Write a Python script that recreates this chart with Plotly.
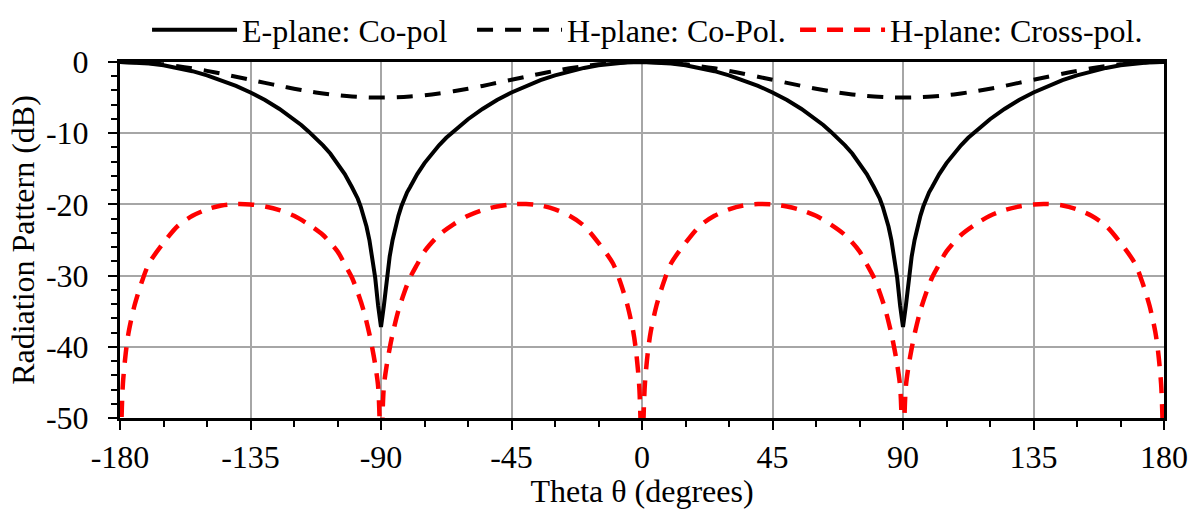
import plotly.graph_objects as go

# ---- E-plane co-polarisation (dB) ----
theta_e = [
    -180, -175, -170, -165, -160, -155, -150, -145, -140, -135, -130, -125, -120,
    -117.5, -115, -112.5, -110, -107.5, -105, -102.5, -100,
    -99, -98, -97, -96, -95, -94, -93, -92, -91, -90,
    -89, -88, -87, -86, -85, -84, -83, -82, -81, -80,
    -77.5, -75, -72.5, -70, -67.5, -65, -62.5, -60,
    -55, -50, -45, -40, -35, -30, -25, -20, -15, -10, -5, 0,
    5, 10, 15, 20, 25, 30, 35, 40, 45, 50, 55, 60,
    62.5, 65, 67.5, 70, 72.5, 75, 77.5, 80,
    81, 82, 83, 84, 85, 86, 87, 88, 89, 90,
    91, 92, 93, 94, 95, 96, 97, 98, 99, 100,
    102.5, 105, 107.5, 110, 112.5, 115, 117.5, 120,
    125, 130, 135, 140, 145, 150, 155, 160, 165, 170, 175, 180,
]
db_e = [
    0, -0.05, -0.21, -0.46, -0.83, -1.29, -1.87, -2.55, -3.35, -4.28, -5.35, -6.59, -8.04,
    -8.85, -9.75, -10.65, -11.7, -12.85, -14.2, -15.75, -17.6,
    -18.3, -19.2, -20.3, -21.6, -23.1, -25.0, -27.3, -30.3, -34.2, -37.2,
    -34.2, -30.3, -27.3, -25.0, -23.1, -21.6, -20.3, -19.2, -18.3, -17.6,
    -15.75, -14.2, -12.85, -11.7, -10.65, -9.75, -8.85, -8.04,
    -6.59, -5.35, -4.28, -3.35, -2.55, -1.87, -1.29, -0.83, -0.46, -0.21, -0.05, 0,
    -0.05, -0.21, -0.46, -0.83, -1.29, -1.87, -2.55, -3.35, -4.28, -5.35, -6.59, -8.04,
    -8.85, -9.75, -10.65, -11.7, -12.85, -14.2, -15.75, -17.6,
    -18.3, -19.2, -20.3, -21.6, -23.1, -25.0, -27.3, -30.3, -34.2, -37.2,
    -34.2, -30.3, -27.3, -25.0, -23.1, -21.6, -20.3, -19.2, -18.3, -17.6,
    -15.75, -14.2, -12.85, -11.7, -10.65, -9.75, -8.85, -8.04,
    -6.59, -5.35, -4.28, -3.35, -2.55, -1.87, -1.29, -0.83, -0.46, -0.21, -0.05, 0,
]

# ---- H-plane co-polarisation (dB) ----
theta_h = list(range(-180, 181, 5))
db_h_co = [
    0, -0.04, -0.15, -0.33, -0.58, -0.89, -1.25, -1.64, -2.07, -2.5,
    -2.93, -3.36, -3.75, -4.11, -4.42, -4.67, -4.85, -4.96, -5.0,
    -4.96, -4.85, -4.67, -4.42, -4.11, -3.75, -3.36, -2.93, -2.5,
    -2.07, -1.64, -1.25, -0.89, -0.58, -0.33, -0.15, -0.04, 0,
    -0.04, -0.15, -0.33, -0.58, -0.89, -1.25, -1.64, -2.07, -2.5,
    -2.93, -3.36, -3.75, -4.11, -4.42, -4.67, -4.85, -4.96, -5.0,
    -4.96, -4.85, -4.67, -4.42, -4.11, -3.75, -3.36, -2.93, -2.5,
    -2.07, -1.64, -1.25, -0.89, -0.58, -0.33, -0.15, -0.04, 0,
]

# ---- H-plane cross-polarisation (dB) ----
theta_x = [
    -180, -179.5, -179, -178, -177, -175, -172.5, -170, -165, -160, -155, -150,
    -145, -140, -135, -130, -125, -120, -115, -110, -105, -102.5, -100,
    -98, -96, -94, -93, -92, -91, -90.5, -90,
    -89.5, -89, -88, -87, -86, -84, -82, -80, -77.5, -75, -70, -65, -60,
    -55, -50, -45, -40, -35, -30, -25, -20, -15, -10, -7.5, -5, -3, -2, -1, -0.5, 0,
    0.5, 1, 2, 3, 5, 7.5, 10, 15, 20, 25, 30, 35, 40, 45, 50, 55, 60, 65, 70,
    75, 77.5, 80, 82, 84, 86, 87, 88, 89, 89.5, 90,
    90.5, 91, 92, 93, 94, 96, 98, 100, 102.5, 105, 110, 115, 120,
    125, 130, 135, 140, 145, 150, 155, 160, 165, 170, 172.5, 175, 177, 178, 179, 179.5, 180,
]
db_x = [
    -65, -50.5, -45.2, -40.8, -37.9, -34.2, -30.9, -28.3, -25.4, -23.0, -21.6, -20.7,
    -20.15, -19.95, -20.0, -20.3, -20.8, -21.6, -22.8, -24.3, -26.6, -28.4, -30.3,
    -32.4, -34.9, -38.2, -40.2, -42.5, -45.5, -50, -65,
    -50, -45.5, -42.5, -40.2, -38.2, -34.9, -32.4, -30.3, -28.4, -26.6, -24.3, -22.8, -21.6,
    -20.8, -20.3, -20.0, -19.95, -20.15, -20.7, -21.6, -23.0, -25.4, -28.3, -30.9, -34.2, -37.9, -40.8, -45.2, -50.5, -65,
    -50.5, -45.2, -40.8, -37.9, -34.2, -30.9, -28.3, -25.4, -23.0, -21.6, -20.7, -20.15, -19.95, -20.0, -20.3, -20.8, -21.6, -22.8, -24.3,
    -26.6, -28.4, -30.3, -32.4, -34.9, -38.2, -40.2, -42.5, -45.5, -50, -65,
    -50, -45.5, -42.5, -40.2, -38.2, -34.9, -32.4, -30.3, -28.4, -26.6, -24.3, -22.8, -21.6,
    -20.8, -20.3, -20.0, -19.95, -20.15, -20.7, -21.6, -23.0, -25.4, -28.3, -30.9, -34.2, -37.9, -40.8, -45.2, -50.5, -65,
]

x_ticks = [-180, -135, -90, -45, 0, 45, 90, 135, 180]
x_tick_labels = ["-180", "-135", "-90", "-45", "0", "45", "90", "135", "180"]
y_ticks = [-50, -40, -30, -20, -10, 0]
y_tick_labels = ["-50", "-40", "-30", "-20", "-10", "0"]

FONT = "Liberation Serif, Times New Roman, serif"
FS = 32

fig = go.Figure()
fig.add_trace(go.Scatter(
    x=theta_e, y=db_e, mode="lines", name="E-plane: Co-pol",
    line=dict(color="black", width=4), legend="legend",
))
fig.add_trace(go.Scatter(
    x=theta_h, y=db_h_co, mode="lines", name="H-plane: Co-Pol.",
    line=dict(color="black", width=4, dash="16px,12px", shape="spline", smoothing=0.8),
    legend="legend2",
))
fig.add_trace(go.Scatter(
    x=theta_x, y=db_x, mode="lines", name="H-plane: Cross-pol.",
    line=dict(color="#ff0000", width=4.5, dash="16px,11px", shape="spline", smoothing=0.8),
    legend="legend3",
))

axis_common = dict(
    showline=True, linecolor="black", linewidth=3, mirror=True,
    ticks="outside", ticklen=9, tickwidth=2, tickcolor="black",
    showgrid=True, gridcolor="#a6a6a6", gridwidth=1.5,
    zeroline=False,
    tickfont=dict(family=FONT, size=FS, color="black"),
)

fig.update_xaxes(
    range=[-180, 180], tickmode="array", tickvals=x_ticks, ticktext=x_tick_labels,
    minor=dict(dtick=15, tick0=-180, ticks="outside", ticklen=6, tickwidth=2,
               tickcolor="black", showgrid=False),
    title=dict(text="Theta θ (degrees)", font=dict(family=FONT, size=FS, color="black"),
               standoff=2),
    **axis_common,
)
fig.update_yaxes(
    range=[-50, 0], tickmode="array", tickvals=y_ticks, ticktext=y_tick_labels,
    minor=dict(dtick=2, tick0=0, ticks="outside", ticklen=6, tickwidth=2,
               tickcolor="black", showgrid=False),
    ticklabelstandoff=13,
    title=dict(text="Radiation Pattern (dB)", font=dict(family=FONT, size=FS, color="black"),
               standoff=2),
    **axis_common,
)

# one single-entry legend per series, laid out in a row above the plot
legend_common = dict(
    orientation="h", xanchor="left", y=1.09, yanchor="middle",
    font=dict(family=FONT, size=FS, color="black"),
    bgcolor="rgba(0,0,0,0)", itemwidth=85,
)

fig.update_layout(
    width=1199, height=509,
    margin=dict(l=120, r=35, t=62, b=91, autoexpand=False),
    plot_bgcolor="white", paper_bgcolor="white",
    font=dict(family=FONT, size=FS, color="black"),
    showlegend=True,
    legend=dict(x=0.0259, **legend_common),
    legend2=dict(x=0.3372, **legend_common),
    legend3=dict(x=0.6466, **legend_common),
)

fig.write_html("out.html")
